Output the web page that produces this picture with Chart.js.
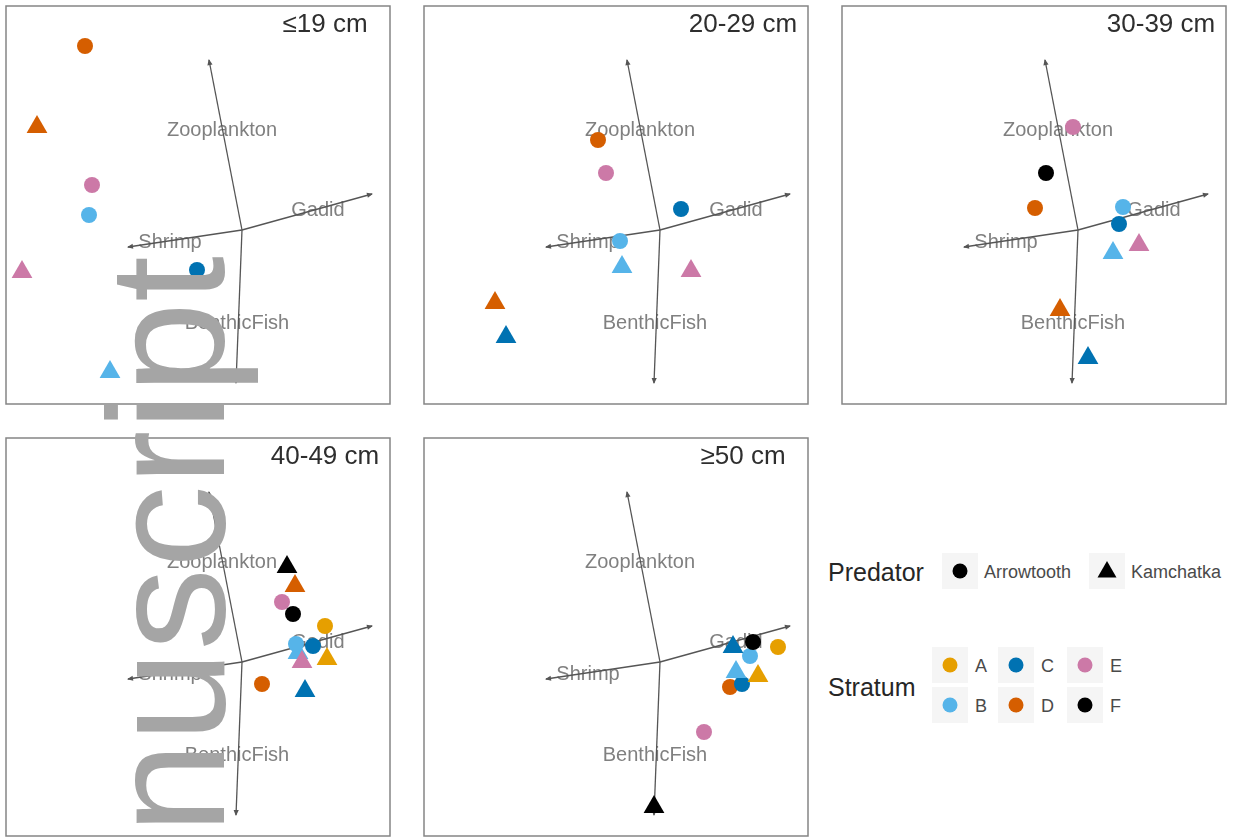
<!DOCTYPE html>
<html>
<head>
<meta charset="utf-8">
<script src="https://cdn.jsdelivr.net/npm/chart.js@4.4.1/dist/chart.umd.min.js"></script>
<style>
  html, body { margin: 0; padding: 0; background: #fff; }
  #page { position: relative; width: 1233px; height: 837px; overflow: hidden;
          font-family: "Liberation Sans", Arial, sans-serif; }
  .panel { position: absolute; }
  #mark { position: absolute; left: 0; top: 0; pointer-events: none; }
  .lg-title { position: absolute; font-size: 25px; color: #262626; line-height: 1; }
  .key { position: absolute; width: 36px; height: 36px; background: #f5f5f5; }
  .key svg { position: absolute; left: 0; top: 0; }
  .lg-text { position: absolute; font-size: 18px; color: #4a4a4a; line-height: 1; }
</style>
</head>
<body>
<div id="page">
  <canvas id="p0" class="panel"></canvas>
  <canvas id="p1" class="panel"></canvas>
  <canvas id="p2" class="panel"></canvas>
  <canvas id="p3" class="panel"></canvas>
  <canvas id="p4" class="panel"></canvas>
  <div id="legend"></div>
  <canvas id="mark" width="1233" height="837"></canvas>
</div>
<script>
// --- data ---
const sizeClasses = ['≤19 cm', '20-29 cm', '30-39 cm', '40-49 cm', '≥50 cm'];
const strata = ['A', 'B', 'C', 'D', 'E', 'F'];
const predators = ['Arrowtooth', 'Kamchatka'];

const prey = ['Zooplankton', 'Gadid', 'Shrimp', 'BenthicFish'];
const preyArrowX = [-0.33, 1.30, -1.14, -0.06];
const preyArrowY = [1.70, 0.36, -0.17, -1.53];
const preyLabelX = [-0.20, 0.76, -0.72, -0.05];
const preyLabelY = [1.00, 0.20, -0.12, -0.93];

// ≤19 cm
const s19Stratum = ['D', 'D', 'E', 'B', 'E', 'C', 'B'];
const s19Predator = ['Arrowtooth', 'Kamchatka', 'Arrowtooth', 'Arrowtooth', 'Kamchatka', 'Arrowtooth', 'Kamchatka'];
const s19X = [-1.57, -2.05, -1.50, -1.53, -2.20, -0.45, -1.32];
const s19Y = [1.84, 1.03, 0.45, 0.15, -0.42, -0.40, -1.42];

// 20-29 cm
const s20Stratum = ['D', 'E', 'C', 'B', 'B', 'E', 'D', 'C'];
const s20Predator = ['Arrowtooth', 'Arrowtooth', 'Arrowtooth', 'Arrowtooth', 'Kamchatka', 'Kamchatka', 'Kamchatka', 'Kamchatka'];
const s20X = [-0.62, -0.54, 0.21, -0.40, -0.38, 0.31, -1.65, -1.54];
const s20Y = [0.90, 0.57, 0.21, -0.11, -0.37, -0.41, -0.73, -1.07];

// 30-39 cm
const s30Stratum = ['E', 'F', 'D', 'B', 'C', 'E', 'B', 'D', 'C'];
const s30Predator = ['Arrowtooth', 'Arrowtooth', 'Arrowtooth', 'Arrowtooth', 'Arrowtooth', 'Kamchatka', 'Kamchatka', 'Kamchatka', 'Kamchatka'];
const s30X = [-0.05, -0.32, -0.43, 0.45, 0.41, 0.61, 0.35, -0.18, 0.10];
const s30Y = [1.03, 0.57, 0.22, 0.23, 0.06, -0.15, -0.23, -0.80, -1.28];

// 40-49 cm
const s40Stratum = ['D', 'C', 'A', 'B', 'E', 'A', 'B', 'C', 'E', 'F', 'D', 'F'];
const s40Predator = ['Arrowtooth', 'Kamchatka', 'Kamchatka', 'Kamchatka', 'Kamchatka', 'Arrowtooth', 'Arrowtooth', 'Arrowtooth', 'Arrowtooth', 'Arrowtooth', 'Kamchatka', 'Kamchatka'];
const s40X = [0.20, 0.63, 0.85, 0.56, 0.60, 0.83, 0.54, 0.71, 0.40, 0.51, 0.53, 0.45];
const s40Y = [-0.22, -0.29, 0.03, 0.09, 0.00, 0.36, 0.18, 0.16, 0.60, 0.48, 0.76, 0.95];

// ≥50 cm
const s50Stratum = ['E', 'D', 'C', 'A', 'B', 'B', 'C', 'A', 'F', 'F'];
const s50Predator = ['Arrowtooth', 'Arrowtooth', 'Arrowtooth', 'Kamchatka', 'Kamchatka', 'Arrowtooth', 'Kamchatka', 'Arrowtooth', 'Arrowtooth', 'Kamchatka'];
const s50X = [0.44, 0.70, 0.82, 0.98, 0.76, 0.90, 0.73, 1.18, 0.93, -0.06];
const s50Y = [-0.70, -0.25, -0.22, -0.14, -0.10, 0.06, 0.15, 0.15, 0.20, -1.45];

// --- styling / layout ---
const stratumColors = { A: '#E69F00', B: '#56B4E9', C: '#0072B2', D: '#D55E00', E: '#CC79A7', F: '#000000' };
const panelData = [
  [s19Stratum, s19Predator, s19X, s19Y],
  [s20Stratum, s20Predator, s20X, s20Y],
  [s30Stratum, s30Predator, s30X, s30Y],
  [s40Stratum, s40Predator, s40X, s40Y],
  [s50Stratum, s50Predator, s50X, s50Y]
];
const panelBoxes = [[6, 6], [424, 6], [842, 6], [6, 438], [424, 438]];
const PW = 384, PH = 398, PAD = 3;

const panelDeco = {
  id: 'panelDeco',
  beforeDatasetsDraw(chart) {
    const { ctx, scales: { x, y } } = chart;
    ctx.save();
    ctx.font = '20px "Liberation Sans", Arial, sans-serif';
    ctx.fillStyle = '#808080';
    ctx.textAlign = 'center';
    ctx.textBaseline = 'middle';
    prey.forEach((name, i) => {
      ctx.fillText(name, x.getPixelForValue(preyLabelX[i]), y.getPixelForValue(preyLabelY[i]));
    });
    ctx.restore();
  },
  afterDatasetDraw(chart, args) {
    const ds = chart.data.datasets[args.index];
    if (!ds.isArrow) return;
    const pts = args.meta.data;
    const a = pts[0], b = pts[1];
    const ang = Math.atan2(b.y - a.y, b.x - a.x);
    const { ctx } = chart;
    ctx.save();
    ctx.fillStyle = '#555';
    ctx.translate(b.x, b.y);
    ctx.rotate(ang);
    ctx.beginPath();
    ctx.moveTo(1, 0);
    ctx.lineTo(-5, -2.6);
    ctx.lineTo(-5, 2.6);
    ctx.closePath();
    ctx.fill();
    ctx.restore();
  },
  afterDraw(chart, args, opts) {
    const { ctx, chartArea: ca, scales: { x, y } } = chart;
    ctx.save();
    ctx.strokeStyle = '#858585';
    ctx.lineWidth = 1.5;
    ctx.strokeRect(ca.left, ca.top, ca.right - ca.left, ca.bottom - ca.top);
    ctx.font = '26px "Liberation Sans", Arial, sans-serif';
    ctx.fillStyle = '#2e2e2e';
    ctx.textAlign = 'center';
    ctx.textBaseline = 'middle';
    ctx.fillText(opts.title, x.getPixelForValue(0.83), y.getPixelForValue(2.05));
    ctx.restore();
  }
};

panelData.forEach((pd, k) => {
  const [st, pr, xs, ys] = pd;
  const cv = document.getElementById('p' + k);
  cv.width = PW + 2 * PAD;
  cv.height = PH + 2 * PAD;
  cv.style.left = (panelBoxes[k][0] - PAD) + 'px';
  cv.style.top = (panelBoxes[k][1] - PAD) + 'px';

  const datasets = [{
    data: xs.map((v, i) => ({ x: v, y: ys[i] })),
    pointStyle: pr.map(p => p === 'Arrowtooth' ? 'circle' : 'triangle'),
    pointRadius: pr.map(p => p === 'Arrowtooth' ? 8 : 12),
    backgroundColor: st.map(s => stratumColors[s]),
    borderWidth: 0,
    order: 0
  }];
  prey.forEach((name, i) => {
    datasets.push({
      isArrow: true,
      data: [{ x: 0, y: 0 }, { x: preyArrowX[i], y: preyArrowY[i] }],
      showLine: true,
      borderColor: '#555',
      borderWidth: 1.3,
      pointRadius: 0,
      order: 1
    });
  });

  new Chart(cv, {
    type: 'scatter',
    data: { datasets },
    options: {
      responsive: false,
      devicePixelRatio: 1,
      animation: false,
      events: [],
      layout: { padding: PAD, autoPadding: false },
      scales: {
        x: { type: 'linear', min: -2.36, max: 1.48, display: false },
        y: { type: 'linear', min: -1.74, max: 2.24, display: false }
      },
      plugins: {
        legend: { display: false },
        tooltip: { enabled: false },
        panelDeco: { title: sizeClasses[k] }
      }
    },
    plugins: [panelDeco]
  });
});

// --- legend ---
const legend = document.getElementById('legend');
function symbol(shape, color, size) {
  const c = size / 2;
  if (shape === 'circle') {
    return `<svg width="${size}" height="${size}"><circle cx="${c}" cy="${c}" r="7.5" fill="${color}"/></svg>`;
  }
  return `<svg width="${size}" height="${size}"><polygon points="${c},${c - 10} ${c + 9.5},${c + 6.5} ${c - 9.5},${c + 6.5}" fill="${color}"/></svg>`;
}
function addKey(cx, cy, html) {
  const d = document.createElement('div');
  d.className = 'key';
  d.style.left = (cx - 18) + 'px';
  d.style.top = (cy - 18) + 'px';
  d.innerHTML = html;
  legend.appendChild(d);
}
function addText(cls, txt, left, cy, size) {
  const d = document.createElement('div');
  d.className = cls;
  d.textContent = txt;
  d.style.left = left + 'px';
  d.style.top = (cy - size / 2) + 'px';
  legend.appendChild(d);
}
addText('lg-title', 'Predator', 828, 572, 25);
const predKeyX = [960, 1107];
predators.forEach((p, i) => {
  addKey(predKeyX[i], 571, symbol(i === 0 ? 'circle' : 'triangle', '#000', 36));
  addText('lg-text', p, predKeyX[i] + 24, 572, 18);
});
addText('lg-title', 'Stratum', 828, 687, 25);
strata.forEach((s, i) => {
  const col = Math.floor(i / 2), row = i % 2;
  const cx = [950, 1016, 1085][col], cy = [665, 705][row];
  addKey(cx, cy, symbol('circle', stratumColors[s], 36));
  addText('lg-text', s, cx + 25, cy + 1, 18);
});

// --- watermark ---
const mk = document.getElementById('mark').getContext('2d');
mk.save();
mk.fillStyle = '#a5a5a5';
mk.font = '165px "Liberation Sans", Arial, sans-serif';
mk.translate(224, 834);
mk.rotate(-Math.PI / 2);
mk.fillText('nuscript', 0, 0);
mk.restore();
</script>
</body>
</html>
